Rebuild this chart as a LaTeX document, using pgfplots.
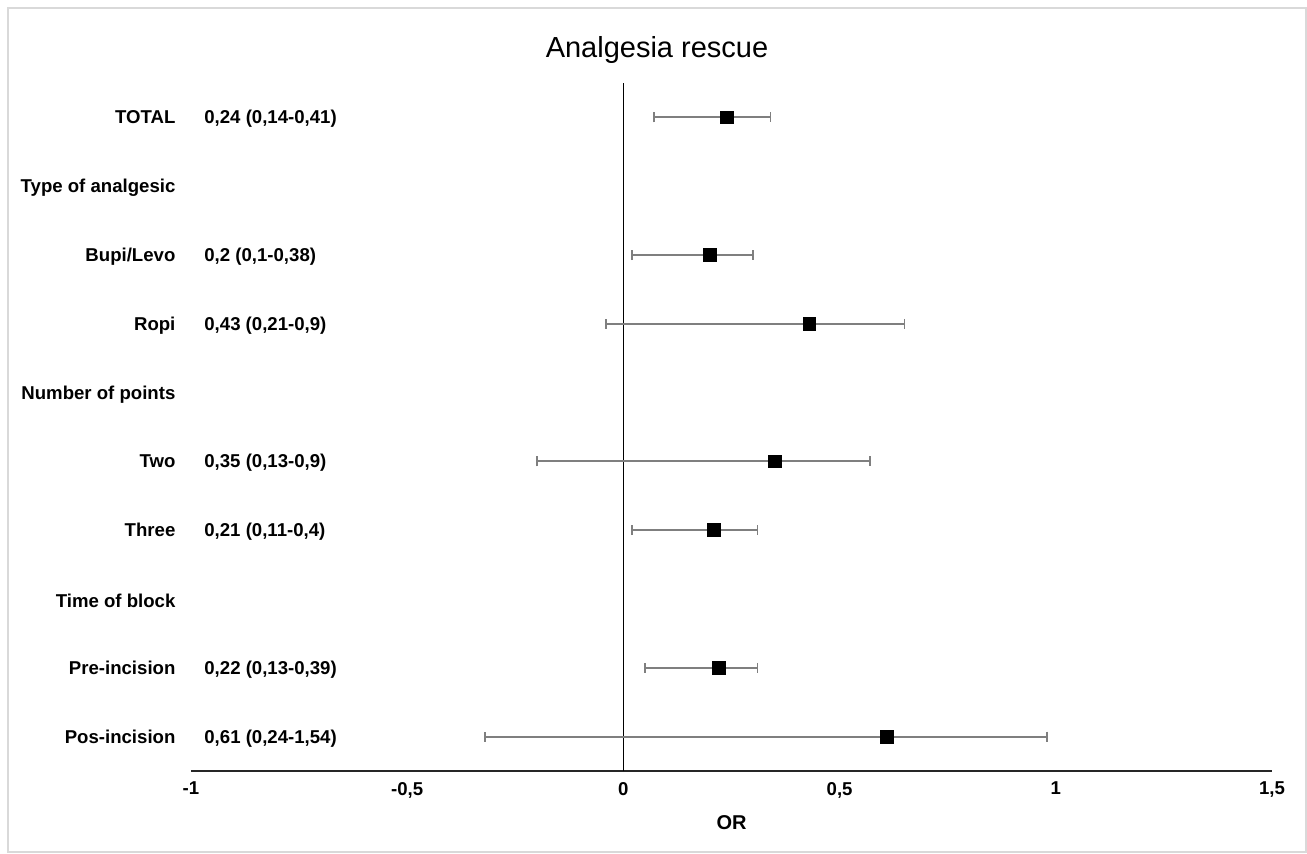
\documentclass[border=0pt]{standalone}
\usepackage{fontspec}
\setmainfont{Liberation Sans}
\usepackage{pgfplots}
\pgfplotsset{compat=1.18}

\definecolor{errgray}{HTML}{7F7F7F}
\definecolor{framegray}{HTML}{D9D9D9}

% name right-aligned, estimate left-aligned
\newcommand{\row}[2]{\makebox[80pt][r]{#1}\hspace{14.5pt}\makebox[0pt][l]{#2}}

\begin{document}
\begin{tikzpicture}
\path[use as bounding box] (0,0) rectangle (653.5pt,426.5pt);
\draw[framegray, line width=0.8pt] (4pt,0.5pt) rectangle (653pt,422.5pt);

\node[font=\fontsize{14.5pt}{16pt}\selectfont] at (328.5pt,401.5pt) {Analgesia rescue};

\begin{axis}[
    scale only axis,
    width=540.5pt, height=344pt,
    at={(95.5pt,41pt)}, anchor=south west,
    xmin=-1, xmax=1.5,
    ymin=0.5, ymax=10.5,
    y dir=reverse,
    separate axis lines,
    axis x line*=bottom,
    axis y line*=left,
    y axis line style={draw=none},
    x axis line style={black!85, line width=1pt},
    major tick length=0pt,
    xtick={-1,-0.5,0,0.5,1,1.5},
    ytick={1,2,3,4,5,6,7,8,9,10},
    yticklabels={
        \row{TOTAL}{0,24 (0,14-0,41)},
        \row{Type of analgesic}{},
        \row{Bupi/Levo}{0,2 (0,1-0,38)},
        \row{Ropi}{0,43 (0,21-0,9)},
        \row{Number of points}{},
        \row{Two}{0,35 (0,13-0,9)},
        \row{Three}{0,21 (0,11-0,4)},
        \row{Time of block}{},
        \row{Pre-incision}{0,22 (0,13-0,39)},
        \row{Pos-incision}{0,61 (0,24-1,54)}
    },
    yticklabel style={anchor=west, inner sep=0pt, xshift=-88pt, yshift=-0.8pt,
        font=\bfseries\fontsize{9.3pt}{10pt}\selectfont},
    xticklabel style={font=\bfseries\fontsize{9.3pt}{10pt}\selectfont, yshift=-2pt},
    /pgf/number format/assume math mode=true,
    /pgf/number format/use comma,
    extra x ticks={0},
    extra x tick labels={},
    extra x tick style={grid=major, major grid style={black, line width=0.8pt}},
    xlabel={OR},
    xlabel style={font=\bfseries\fontsize{10pt}{11pt}\selectfont, yshift=-2pt},
]
% confidence intervals (plus = OR - lower, minus = upper - OR, as in the source)
\addplot[draw=none, mark=none,
    error bars/.cd, x dir=both, x explicit,
    error bar style={errgray, line width=1pt},
    error mark=|,
    error mark options={errgray, line width=0.9pt, mark size=2.5pt}]
coordinates {
    (0.24,1)  += (0.10,0) -= (0.17,0)
    (0.20,3)  += (0.10,0) -= (0.18,0)
    (0.43,4)  += (0.22,0) -= (0.47,0)
    (0.35,6)  += (0.22,0) -= (0.55,0)
    (0.21,7)  += (0.10,0) -= (0.19,0)
    (0.22,9)  += (0.09,0) -= (0.17,0)
    (0.61,10) += (0.37,0) -= (0.93,0)
};
% point estimates
\addplot[only marks, mark=square*, mark size=3.2pt, black] coordinates {
    (0.24,1) (0.20,3) (0.43,4) (0.35,6) (0.21,7) (0.22,9) (0.61,10)
};
\end{axis}
\end{tikzpicture}
\end{document}
